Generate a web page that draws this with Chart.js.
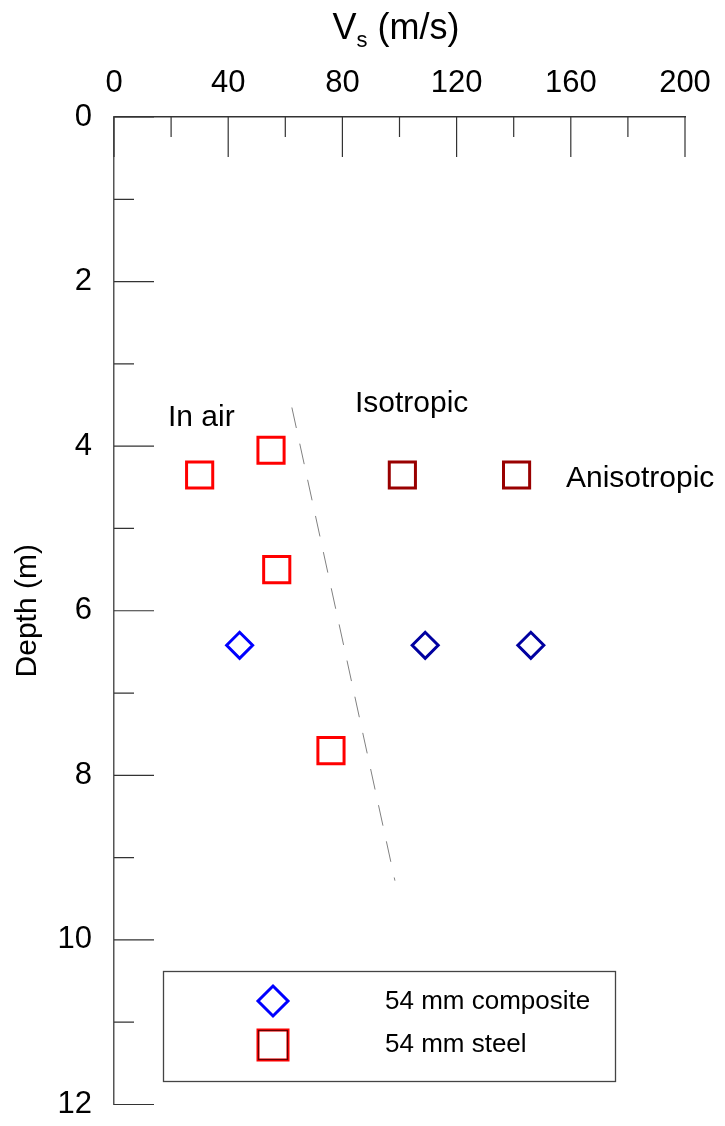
<!DOCTYPE html>
<html><head><meta charset="utf-8">
<script src="https://cdn.jsdelivr.net/npm/chart.js@4.4.0/dist/chart.umd.min.js"></script>
<style>html,body{margin:0;padding:0;background:#fff;}#wrap{width:725px;height:1126px;position:relative;}</style>
</head><body><div id="wrap"><canvas id="c" width="725" height="1126"></canvas></div>
<script>
const compositeVs = [44, 109, 146];
const compositeDepth = [6.42, 6.42, 6.42];
const steelVs = [30, 55, 57, 76, 101, 141];
const steelDepth = [4.35, 4.05, 5.5, 7.7, 4.35, 4.35];
const trendVs = [62.3, 98.4];
const trendDepth = [3.53, 9.28];
const xMajorTicks = [0, 40, 80, 120, 160, 200];
const xMinorTicks = [20, 60, 100, 140, 180];
const yMajorTicks = [0, 2, 4, 6, 8, 10, 12];
const yMinorTicks = [1, 3, 5, 7, 9, 11];
const noteTexts = ['In air', 'Isotropic', 'Anisotropic'];
const noteVs = [18.9, 84.4, 158.3];
const noteDepth = [3.66, 3.48, 4.39];
const seriesLabels = ['54 mm composite', '54 mm steel'];
const compositeColors = ['#0000ff', '#0000a0', '#0000a0'];
const steelColors = ['#ff0000', '#ff0000', '#ff0000', '#ff0000', '#990000', '#990000'];

const FONT = "'Liberation Sans', Arial, Helvetica, sans-serif";

const overlay = {
  id: 'overlay',
  afterDraw(chart) {
    const ctx = chart.ctx, xs = chart.scales.x, ys = chart.scales.y, ca = chart.chartArea;
    ctx.save();
    // inward ticks
    ctx.strokeStyle = '#333'; ctx.lineWidth = 1.2;
    ctx.beginPath();
    xMajorTicks.forEach(v => { const p = xs.getPixelForValue(v); ctx.moveTo(p, ca.top); ctx.lineTo(p, ca.top + 40); });
    xMinorTicks.forEach(v => { const p = xs.getPixelForValue(v); ctx.moveTo(p, ca.top); ctx.lineTo(p, ca.top + 20); });
    yMajorTicks.forEach(v => { const p = ys.getPixelForValue(v); ctx.moveTo(ca.left, p); ctx.lineTo(ca.left + 40, p); });
    yMinorTicks.forEach(v => { const p = ys.getPixelForValue(v); ctx.moveTo(ca.left, p); ctx.lineTo(ca.left + 20, p); });
    ctx.stroke();
    // notes
    ctx.fillStyle = '#000';
    ctx.font = '30px ' + FONT; ctx.textAlign = 'left'; ctx.textBaseline = 'middle';
    noteTexts.forEach((t, i) => ctx.fillText(t, xs.getPixelForValue(noteVs[i]), ys.getPixelForValue(noteDepth[i])));
    // x title with subscript
    ctx.textBaseline = 'alphabetic';
    const big = '36px ' + FONT, small = '22px ' + FONT;
    ctx.font = big; const wV = ctx.measureText('V').width; const wR = ctx.measureText(' (m/s)').width;
    ctx.font = small; const wS = ctx.measureText('s').width;
    const total = wV + wS + wR;
    let x0 = 396 - total / 2;
    ctx.font = big; ctx.fillText('V', x0, 39);
    ctx.font = small; ctx.fillText('s', x0 + wV, 47);
    ctx.font = big; ctx.fillText(' (m/s)', x0 + wV + wS, 39);
    // legend
    ctx.strokeStyle = '#444'; ctx.lineWidth = 1.3;
    ctx.strokeRect(163.5, 971.5, 452, 110);
    const dx = 273, dy = 1001, dr = 15;
    ctx.lineWidth = 3; ctx.strokeStyle = compositeColors[0];
    ctx.beginPath(); ctx.moveTo(dx, dy - dr); ctx.lineTo(dx + dr, dy); ctx.lineTo(dx, dy + dr); ctx.lineTo(dx - dr, dy); ctx.closePath(); ctx.stroke();
    ctx.strokeStyle = '#ff0000'; ctx.lineWidth = 3;
    ctx.strokeRect(273 - 15, 1045 - 15, 30, 30);
    ctx.strokeStyle = '#660000'; ctx.lineWidth = 1.2;
    ctx.strokeRect(273 - 14.5, 1045 - 14.5, 29, 29);
    ctx.fillStyle = '#000'; ctx.font = '26px ' + FONT; ctx.textBaseline = 'middle'; ctx.textAlign = 'left';
    ctx.fillText(seriesLabels[0], 385, 1002);
    ctx.fillText(seriesLabels[1], 385, 1045);
    ctx.restore();
  }
};

new Chart(document.getElementById('c'), {
  type: 'scatter',
  data: {
    datasets: [
      {
        label: seriesLabels[0],
        data: compositeVs.map((x, i) => ({ x: x, y: compositeDepth[i] })),
        pointStyle: 'rectRot', pointRadius: 13, pointBorderWidth: 3,
        pointBorderColor: compositeColors, pointBackgroundColor: 'rgba(0,0,0,0)',
        showLine: false
      },
      {
        label: seriesLabels[1],
        data: steelVs.map((x, i) => ({ x: x, y: steelDepth[i] })),
        pointStyle: 'rect', pointRadius: 18.5, pointBorderWidth: 3,
        pointBorderColor: steelColors, pointBackgroundColor: 'rgba(0,0,0,0)',
        showLine: false
      },
      {
        label: 'trend',
        data: trendVs.map((x, i) => ({ x: x, y: trendDepth[i] })),
        showLine: true, borderColor: '#808080', borderWidth: 1, borderDash: [21, 16],
        pointRadius: 0, fill: false
      }
    ]
  },
  options: {
    responsive: false, animation: false, devicePixelRatio: 1,
    layout: { padding: { left: 0, top: 0, right: 40, bottom: 19 } },
    plugins: { legend: { display: false }, tooltip: { enabled: false } },
    scales: {
      x: {
        type: 'linear', position: 'top', min: 0, max: 200,
        ticks: { stepSize: 40, color: '#000', font: { family: FONT, size: 31 }, padding: 15, maxRotation: 0 },
        grid: { display: false, drawTicks: false },
        border: { display: true, color: '#333', width: 1.5 },
        afterFit: s => { s.height = 117; s.paddingLeft = 0; s.paddingRight = 0; }
      },
      y: {
        type: 'linear', reverse: true, min: 0, max: 12,
        ticks: { stepSize: 2, color: '#000', font: { family: FONT, size: 31 }, padding: 22 },
        grid: { display: false, drawTicks: false },
        border: { display: true, color: '#555', width: 1.5 },
        title: { display: true, text: 'Depth (m)', color: '#000', font: { family: FONT, size: 30 }, padding: { top: 10, bottom: 0 } },
        afterFit: s => { s.width = 114; s.paddingTop = 0; s.paddingBottom = 0; }
      }
    }
  },
  plugins: [overlay]
});
</script>
</body></html>
